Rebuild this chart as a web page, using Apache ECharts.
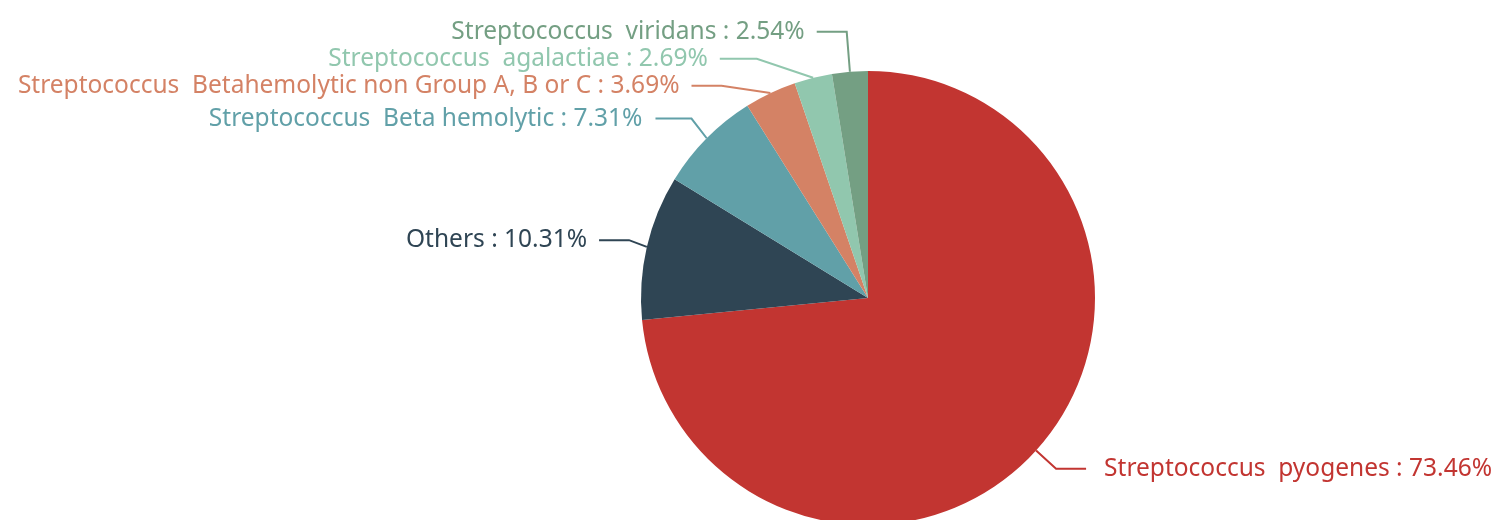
<!DOCTYPE html>
<html><head><meta charset="utf-8">
<script src="https://cdn.jsdelivr.net/npm/echarts@6/dist/echarts.min.js"></script>
<style>html,body{margin:0;padding:0;background:#fff}#c{width:1499px;height:520px}</style>
</head><body><div id="c"></div>
<script>
const names = ['Streptococcus  pyogenes','Others','Streptococcus  Beta hemolytic','Streptococcus  Betahemolytic non Group A, B or C','Streptococcus  agalactiae','Streptococcus  viridans'];
const values = [73.46, 10.31, 7.31, 3.69, 2.69, 2.54];
const colors = ['#c23531','#2f4554','#61a0a8','#d48265','#91c7ae','#749f83'];
const lineLengths = [27, 30, 28, 32, 45, 40];
const lineLengths2 = [30, 30, 36, 30, 37, 30];
const labelGaps = [18, 12, 13, 12, 12, 12];
const chart = echarts.init(document.getElementById('c'));
chart.setOption({
  animation:false,
  color: colors,
  series:[{
    type:'pie',
    center:[868,298],
    radius:227,
    startAngle:90,
    data: names.map((n,i)=>({name:n,value:values[i],
      labelLine:{length:lineLengths[i],length2:lineLengths2[i]},
      label:{distanceToLabelLine:labelGaps[i]}})),
    label:{formatter:'{b} : {d}%', fontSize:24.5, lineHeight:23, fontFamily:'Noto Sans', color:'inherit', overflow:'none'},
    labelLine:{length:26,length2:30, lineStyle:{width:2}}
  }]
});
</script></body></html>
